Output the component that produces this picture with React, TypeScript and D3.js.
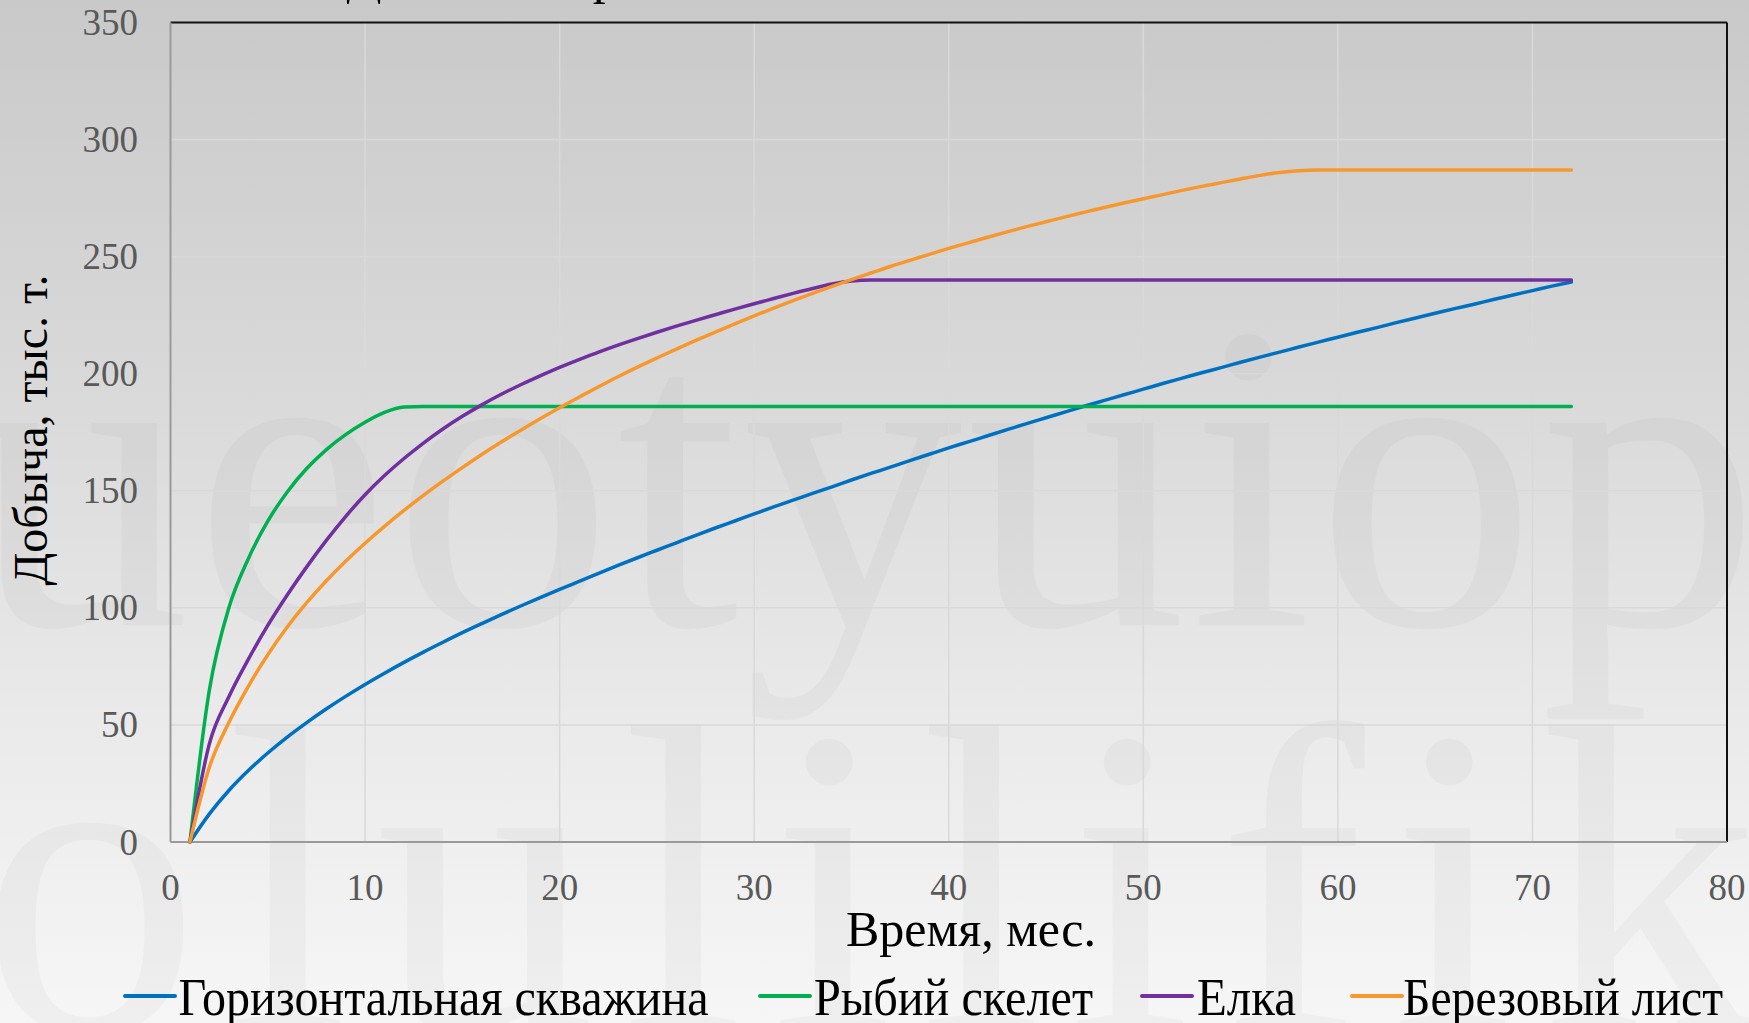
import React from "react";
import * as d3 from "d3";

// Cumulative production per month (thousand tonnes), months 1..72
const horizontalWell = [
  0, 12, 22, 30.5, 38, 44.8, 51, 56.8, 62.2, 67.3,
  72.1, 76.7, 81.1, 85.3, 89.4, 93.3, 97.1, 100.8, 104.4, 107.9,
  111.3, 114.7, 118.1, 121.4, 124.6, 127.8, 131, 134.1, 137.1, 140.1,
  143.1, 146, 148.9, 151.7, 154.6, 157.4, 160.1, 162.9, 165.6, 168.3,
  170.9, 173.5, 176.1, 178.7, 181.2, 183.7, 186.2, 188.6, 191, 193.4,
  195.8, 198.1, 200.4, 202.6, 204.9, 207.1, 209.2, 211.4, 213.5, 215.6,
  217.7, 219.7, 221.8, 223.8, 225.8, 227.8, 229.7, 231.7, 233.6, 235.5,
  237.4, 239.2,
];

const fishbone = [
  0, 65, 100, 121, 137, 149.5, 159.5, 167.5, 174, 179.3,
  183.5, 185.8, 186, 186, 186, 186, 186, 186, 186, 186,
  186, 186, 186, 186, 186, 186, 186, 186, 186, 186,
  186, 186, 186, 186, 186, 186, 186, 186, 186, 186,
  186, 186, 186, 186, 186, 186, 186, 186, 186, 186,
  186, 186, 186, 186, 186, 186, 186, 186, 186, 186,
  186, 186, 186, 186, 186, 186, 186, 186, 186, 186,
  186, 186,
];

const herringbone = [
  0, 42, 62, 78, 92.5, 105.5, 117.5, 128.7, 139, 148.3,
  156.5, 163.8, 170.4, 176.4, 181.8, 186.7, 191.2, 195.3, 199.1, 202.7,
  206, 209.2, 212.2, 215, 217.7, 220.3, 222.8, 225.2, 227.6, 229.9,
  232.1, 234.3, 236.4, 238.3, 239.6, 240, 240, 240, 240, 240,
  240, 240, 240, 240, 240, 240, 240, 240, 240, 240,
  240, 240, 240, 240, 240, 240, 240, 240, 240, 240,
  240, 240, 240, 240, 240, 240, 240, 240, 240, 240,
  240, 240,
];

const birchLeaf = [
  0, 32, 51, 66.5, 80, 91.8, 102.2, 111.5, 119.9, 127.6,
  134.8, 141.6, 148, 154.1, 159.9, 165.5, 170.8, 175.9, 180.8, 185.5,
  190, 194.4, 198.7, 202.8, 206.7, 210.5, 214.2, 217.8, 221.3, 224.7,
  228, 231.2, 234.3, 237.3, 240.2, 243, 245.8, 248.4, 251, 253.5,
  255.9, 258.3, 260.6, 262.8, 264.9, 267, 269, 271, 272.9, 274.7,
  276.5, 278.3, 280, 281.6, 283.2, 284.7, 285.9, 286.7, 287, 287,
  287, 287, 287, 287, 287, 287, 287, 287, 287, 287,
  287, 287,
];

const seriesNames = ["Горизонтальная скважина", "Рыбий скелет", "Елка", "Березовый лист"];
const seriesColors = ["#0070C0", "#00B050", "#7030A0", "#F7982F"];
const seriesValues = [horizontalWell, fishbone, herringbone, birchLeaf];

const xTicks = [0, 10, 20, 30, 40, 50, 60, 70, 80];
const yTicks = [0, 50, 100, 150, 200, 250, 300, 350];

const titleText = "Добыча из различных типов многоствольных скважин";
const xTitle = "Время, мес.";
const yTitle = "Добыча, тыс. т.";

const W = 1749;
const H = 1023;
const FONT = "'Liberation Serif', 'Times New Roman', serif";

export default function App() {
  const x = d3.scaleLinear().domain([0, 80]).range([170.5, 1727]);
  const y = d3.scaleLinear().domain([0, 350]).range([842, 22.5]);

  const line = d3
    .line<number>()
    .x((_, i) => x(i + 1))
    .y((d) => y(d))
    .curve(d3.curveMonotoneX);

  const legendItems = [
    { lx: 125, tx: 178.5, tw: 530 },
    { lx: 760, tx: 814, tw: 279 },
    { lx: 1142, tx: 1197, tw: 99 },
    { lx: 1352, tx: 1403, tw: 320 },
  ];

  return (
    <svg
      width={W}
      height={H}
      style={{ position: "fixed", left: 0, top: 0, display: "block" }}
      fontFamily={FONT}
    >
      <defs>
        <linearGradient id="bg" x1="0" y1="0" x2="0" y2="1">
          <stop offset="0" stopColor="#c9c9c9" />
          <stop offset="0.4" stopColor="#dadada" />
          <stop offset="0.7" stopColor="#eaeaea" />
          <stop offset="1" stopColor="#f6f6f6" />
        </linearGradient>
      </defs>
      <rect x={0} y={0} width={W} height={H} fill="url(#bg)" />

      {/* faint decorative lettering in the backdrop */}
      <g fill="#000" opacity={0.022} fontSize={440} pointerEvents="none">
        <text x={-30} y={625} textLength={1790} lengthAdjust="spacing">ueotyuiop</text>
        <text x={-20} y={1030} textLength={1780} lengthAdjust="spacing">olulilifik</text>
      </g>

      {/* title, mostly above the visible area */}
      <text x={950} y={-7} textAnchor="middle" fontSize={52} fill="#000">
        {titleText}
      </text>

      {/* gridlines */}
      <g stroke="#d9d9d9" strokeWidth={1.5}>
        {xTicks
          .filter((t) => t > 0 && t < 80)
          .map((t) => (
            <line key={"gx" + t} x1={x(t)} x2={x(t)} y1={y(350)} y2={y(0)} />
          ))}
        {yTicks
          .filter((t) => t > 0 && t < 350)
          .map((t) => (
            <line key={"gy" + t} x1={x(0)} x2={x(80)} y1={y(t)} y2={y(t)} />
          ))}
      </g>

      {/* plot frame */}
      <line x1={x(0)} x2={x(80)} y1={y(350)} y2={y(350)} stroke="#111" strokeWidth={2} />
      <line x1={x(80)} x2={x(80)} y1={y(350)} y2={y(0)} stroke="#111" strokeWidth={2} />
      <line x1={x(0)} x2={x(0)} y1={y(350)} y2={y(0)} stroke="#9a9a9a" strokeWidth={2} />
      <line x1={x(0)} x2={x(80)} y1={y(0)} y2={y(0)} stroke="#9a9a9a" strokeWidth={2} />

      {/* series */}
      {seriesValues.map((vals, i) => (
        <path
          key={seriesNames[i]}
          d={line(vals) || ""}
          fill="none"
          stroke={seriesColors[i]}
          strokeWidth={3.5}
          strokeLinecap="round"
          strokeLinejoin="round"
        />
      ))}

      {/* tick labels */}
      <g fontSize={37} fill="#595959">
        {yTicks.map((t) => (
          <text key={"ty" + t} x={138} y={y(t) + 12.5} textAnchor="end">
            {t}
          </text>
        ))}
        {xTicks.map((t) => (
          <text key={"tx" + t} x={x(t)} y={900} textAnchor="middle">
            {t}
          </text>
        ))}
      </g>

      {/* axis titles */}
      <text x={971} y={946} textAnchor="middle" fontSize={50} fill="#000">
        {xTitle}
      </text>
      <text
        transform="translate(47,430) rotate(-90)"
        textAnchor="middle"
        fontSize={48}
        fill="#000"
      >
        {yTitle}
      </text>

      {/* legend */}
      {legendItems.map((it, i) => (
        <g key={"lg" + i}>
          <line
            x1={it.lx}
            x2={it.lx + 50}
            y1={996}
            y2={996}
            stroke={seriesColors[i]}
            strokeWidth={4}
            strokeLinecap="round"
          />
          <text
            x={it.tx}
            y={1015}
            fontSize={52}
            fill="#000"
            textLength={it.tw}
            lengthAdjust="spacingAndGlyphs"
          >
            {seriesNames[i]}
          </text>
        </g>
      ))}
    </svg>
  );
}
